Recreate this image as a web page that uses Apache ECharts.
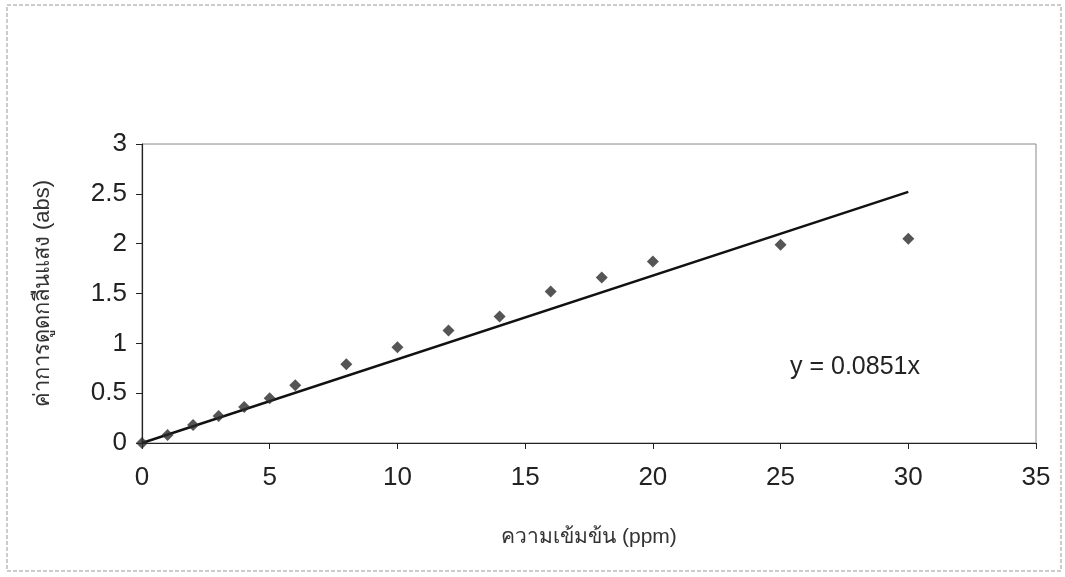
<!DOCTYPE html>
<html><head><meta charset="utf-8">
<script src="https://cdn.jsdelivr.net/npm/echarts@6/dist/echarts.min.js"></script>
<style>html,body{margin:0;padding:0;background:#fff}#c{width:1065px;height:577px}</style>
</head><body><div id="c"></div>
<script>
const concX = [0, 1, 2, 3, 4, 5, 6, 8, 10, 12, 14, 16, 18, 20, 25, 30];
const absY  = [0, 0.08, 0.18, 0.27, 0.36, 0.45, 0.58, 0.79, 0.96, 1.13, 1.27, 1.52, 1.66, 1.82, 1.99, 2.05];
const trendX = [0, 30];
const trendY = [0, 2.52];
const xTicks = [0, 5, 10, 15, 20, 25, 30, 35];
const yTicks = [0, 0.5, 1, 1.5, 2, 2.5, 3];
const equationText = 'y = 0.0851x';
const xTitle = 'ความเข้มข้น (ppm)';
const yTitle = 'ค่าการดูดกลืนแสง (abs)';

const font = '"Liberation Sans", Arial, sans-serif';
const chart = echarts.init(document.getElementById('c'), null, {renderer: 'canvas'});
chart.setOption({
  animation: false,
  backgroundColor: '#fff',
  grid: {left: 142, right: 29, top: 144, bottom: 134, show: true, borderColor: '#888', borderWidth: 1, backgroundColor: 'transparent'},
  xAxis: {
    type: 'value', min: 0, max: 35, interval: 5,
    axisLine: {onZero: false, lineStyle: {color: '#222', width: 1.2}},
    axisTick: {show: true, length: 6, inside: false, lineStyle: {color: '#222'}},
    axisLabel: {fontFamily: font, fontSize: 26, color: '#222', margin: 22,
      formatter: v => xTicks.includes(v) ? String(v) : ''},
    splitLine: {show: false},
    name: xTitle, nameLocation: 'middle', nameGap: 84,
    nameTextStyle: {fontFamily: font, fontSize: 21, color: '#333'}
  },
  yAxis: {
    type: 'value', min: 0, max: 3, interval: 0.5,
    axisLine: {onZero: false, lineStyle: {color: '#222', width: 1.2}},
    axisTick: {show: true, length: 6, lineStyle: {color: '#222'}},
    axisLabel: {fontFamily: font, fontSize: 26, color: '#222', margin: 15,
      formatter: v => yTicks.includes(v) ? String(v) : ''},
    splitLine: {show: false},
    name: yTitle, nameLocation: 'middle', nameGap: 88, nameRotate: 90,
    nameTextStyle: {fontFamily: font, fontSize: 22, color: '#333'}
  },
  series: [
    {
      type: 'line', data: trendX.map((x, i) => [x, trendY[i]]),
      symbol: 'none', lineStyle: {color: '#111', width: 2.5}, z: 2
    },
    {
      type: 'scatter', data: concX.map((x, i) => [x, absY[i]]),
      symbol: 'diamond', symbolSize: 12, itemStyle: {color: '#2a2a2a'}, z: 3
    }
  ],
  graphic: [
    {type: 'rect', shape: {x: 7, y: 5, width: 1054, height: 566},
     style: {fill: 'none', stroke: '#999', lineWidth: 1, lineDash: [4, 2]}, silent: true, z: -1},
    {type: 'text', left: 790, top: 355,
     style: {text: equationText, font: '25px ' + font, fill: '#222'}}
  ]
});
</script></body></html>
